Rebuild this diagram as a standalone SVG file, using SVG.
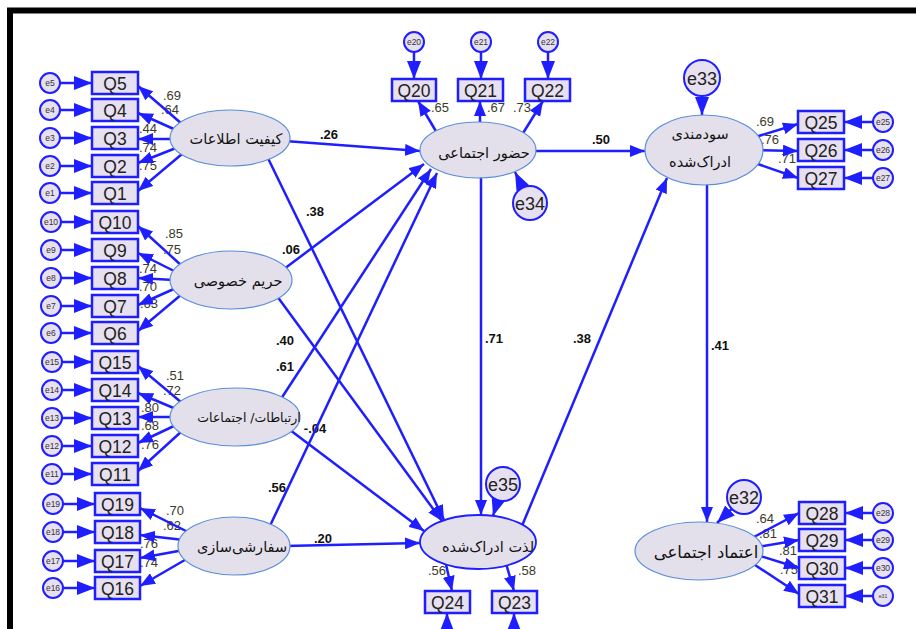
<svg xmlns="http://www.w3.org/2000/svg" width="916" height="629" viewBox="0 0 916 629">
<style>
.ln{stroke:#1e1eff;stroke-width:2.5;fill:none;marker-end:url(#ah)}
.le{stroke:#1e1eff;stroke-width:2.5;fill:none;marker-end:url(#ahb)}
.box{fill:#e7e0f0;stroke:#1e1eff;stroke-width:2.5}
.err{fill:#e7e0f0;stroke:#1e1eff;stroke-width:2}
.lat{fill:#e4e0eb;stroke:#5a8ed8;stroke-width:1.2}
.q{font-family:"Liberation Sans",Arial,sans-serif;font-size:17.5px;fill:#222;text-anchor:middle}
.e{font-family:"Liberation Sans",Arial,sans-serif;font-size:8.5px;fill:#333;text-anchor:middle}
.eb{font-family:"Liberation Sans",Arial,sans-serif;font-size:18px;fill:#222;text-anchor:middle}
.fa{font-family:"DejaVu Sans","Noto Sans",sans-serif;font-size:14.5px;fill:#111;text-anchor:middle}
.ld{font-family:"Liberation Sans",Arial,sans-serif;font-size:13px;fill:#3a3a2a;text-anchor:middle}
.pl{font-family:"Liberation Sans",Arial,sans-serif;font-size:13px;font-weight:bold;fill:#111;text-anchor:middle}
</style>
<defs>
<marker id="ah" markerUnits="userSpaceOnUse" markerWidth="16" markerHeight="12" refX="15" refY="6" orient="auto"><path d="M0,0 L15,6 L0,12 z" fill="#1e1eff"/></marker>
<marker id="ahb" markerUnits="userSpaceOnUse" markerWidth="19" markerHeight="14" refX="18" refY="7" orient="auto"><path d="M0,0 L18,7 L0,14 z" fill="#1e1eff"/></marker>
</defs>
<rect x="0" y="0" width="916" height="629" fill="#fff"/>
<rect x="10" y="10.5" width="1000" height="1000" fill="none" stroke="#000" stroke-width="6"/>

<g id="labels">
<text class="ld" x="172" y="99.5">.69</text><text class="ld" x="170" y="113.5">.64</text><text class="ld" x="148" y="132.5">.44</text><text class="ld" x="148" y="151.5">.74</text><text class="ld" x="148" y="169.5">.75</text>
<text class="ld" x="174" y="237.5">.85</text><text class="ld" x="172" y="253.5">.75</text><text class="ld" x="148" y="272.5">.74</text><text class="ld" x="148" y="290.5">.70</text><text class="ld" x="149" y="307.5">.63</text>
<text class="ld" x="175" y="379.5">.51</text><text class="ld" x="172" y="394.5">.72</text><text class="ld" x="150" y="411.5">.80</text><text class="ld" x="150" y="429.5">.68</text><text class="ld" x="150" y="448.5">.76</text>
<text class="ld" x="175" y="514.5">.70</text><text class="ld" x="172" y="529.5">.62</text><text class="ld" x="149" y="547.5">.76</text><text class="ld" x="149" y="566.5">.74</text>
<text class="ld" x="440" y="112">.65</text><text class="ld" x="496" y="112">.67</text><text class="ld" x="522" y="112">.73</text>
<text class="ld" x="765" y="125.5">.69</text><text class="ld" x="770" y="143.5">.76</text><text class="ld" x="787" y="162.5">.71</text>
<text class="ld" x="765" y="522.5">.64</text><text class="ld" x="768" y="537.5">.81</text><text class="ld" x="788" y="554.5">.81</text><text class="ld" x="789" y="573.5">.75</text>
<text class="ld" x="437" y="574.5">.56</text><text class="ld" x="527" y="574.5">.58</text>
<text class="pl" x="329" y="138.5">.26</text>
<text class="pl" x="315" y="215.5">.38</text>
<text class="pl" x="291" y="253.5">.06</text>
<text class="pl" x="285" y="344.5">.40</text>
<text class="pl" x="285" y="370.5">.61</text>
<text class="pl" x="315" y="432.5">-.04</text>
<text class="pl" x="277" y="491.5">.56</text>
<text class="pl" x="323" y="542.5">.20</text>
<text class="pl" x="601" y="143.5">.50</text>
<text class="pl" x="494" y="342.5">.71</text>
<text class="pl" x="582" y="342.5">.38</text>
<text class="pl" x="720" y="349.5">.41</text>
</g>

<g id="connectors">
<line class="le" x1="60" y1="83" x2="92" y2="83"/><line class="le" x1="60" y1="110" x2="92" y2="110"/><line class="le" x1="60" y1="138" x2="92" y2="138"/><line class="le" x1="60" y1="166" x2="92" y2="166"/><line class="le" x1="60" y1="193" x2="92" y2="193"/>
<line class="le" x1="61" y1="222" x2="92" y2="222"/><line class="le" x1="61" y1="250" x2="92" y2="250"/><line class="le" x1="61" y1="278" x2="92" y2="278"/><line class="le" x1="61" y1="306" x2="92" y2="306"/><line class="le" x1="61" y1="333" x2="92" y2="333"/>
<line class="le" x1="62" y1="362" x2="92" y2="362"/><line class="le" x1="62" y1="390" x2="92" y2="390"/><line class="le" x1="62" y1="418" x2="92" y2="418"/><line class="le" x1="62" y1="446" x2="92" y2="446"/><line class="le" x1="62" y1="474" x2="92" y2="474"/>
<line class="le" x1="63" y1="504" x2="95" y2="504"/><line class="le" x1="63" y1="532" x2="95" y2="532"/><line class="le" x1="63" y1="561" x2="95" y2="561"/><line class="le" x1="63" y1="588" x2="95" y2="588"/>
<line class="le" x1="414" y1="52" x2="414" y2="79"/><line class="le" x1="481" y1="52" x2="481" y2="79"/><line class="le" x1="548" y1="52" x2="548" y2="79"/>
<line class="le" x1="873" y1="122" x2="844" y2="122"/><line class="le" x1="873" y1="150" x2="844" y2="150"/><line class="le" x1="873" y1="178" x2="844" y2="178"/>
<line class="le" x1="873" y1="513" x2="845" y2="513"/><line class="le" x1="873" y1="540" x2="845" y2="540"/><line class="le" x1="873" y1="568" x2="845" y2="568"/><line class="le" x1="873" y1="596" x2="845" y2="596"/>
<line class="le" x1="447" y1="640" x2="447" y2="613"/><line class="le" x1="514" y1="640" x2="514" y2="613"/>
<line class="le" x1="702" y1="96" x2="702" y2="115"/>
<line class="le" x1="522.6" y1="187.7" x2="515" y2="172"/>
<line class="le" x1="497.9" y1="500.2" x2="493" y2="516"/>
<line class="le" x1="731.8" y1="508.8" x2="717" y2="523"/>
<line class="ln" x1="182" y1="124" x2="138" y2="86"/><line class="ln" x1="176" y1="130" x2="138" y2="113"/><line class="ln" x1="174" y1="139" x2="138" y2="139"/><line class="ln" x1="176" y1="148" x2="138" y2="163"/><line class="ln" x1="182" y1="154" x2="138" y2="191"/>
<line class="ln" x1="182" y1="266" x2="138" y2="226"/><line class="ln" x1="176" y1="272" x2="138" y2="253"/><line class="ln" x1="174" y1="280" x2="138" y2="278"/><line class="ln" x1="176" y1="288" x2="138" y2="305"/><line class="ln" x1="182" y1="294" x2="138" y2="331"/>
<line class="ln" x1="182" y1="403" x2="138" y2="366"/><line class="ln" x1="176" y1="409" x2="138" y2="393"/><line class="ln" x1="174" y1="417" x2="138" y2="417"/><line class="ln" x1="176" y1="425" x2="138" y2="443"/><line class="ln" x1="182" y1="431" x2="138" y2="471"/>
<line class="ln" x1="190" y1="533" x2="140" y2="508"/><line class="ln" x1="184" y1="540" x2="140" y2="535"/><line class="ln" x1="184" y1="550" x2="140" y2="558"/><line class="ln" x1="190" y1="557" x2="140" y2="586"/>
<line class="ln" x1="440" y1="138" x2="418" y2="101"/><line class="ln" x1="480" y1="130" x2="480" y2="101"/><line class="ln" x1="520" y1="138" x2="543" y2="101"/>
<line class="ln" x1="752" y1="138" x2="798" y2="124"/><line class="ln" x1="756" y1="150" x2="798" y2="151"/><line class="ln" x1="752" y1="162" x2="798" y2="178"/>
<line class="ln" x1="752" y1="538" x2="799" y2="513"/><line class="ln" x1="757" y1="547" x2="799" y2="540"/><line class="ln" x1="757" y1="555" x2="799" y2="568"/><line class="ln" x1="752" y1="563" x2="799" y2="594"/>
<line class="ln" x1="445" y1="560" x2="452" y2="591"/><line class="ln" x1="505" y1="560" x2="514" y2="591"/>
<line class="ln" x1="285" y1="141" x2="420" y2="151"/>
<line class="ln" x1="264" y1="150" x2="444" y2="520"/>
<line class="ln" x1="280" y1="272" x2="424" y2="164"/>
<line class="ln" x1="274" y1="292" x2="442" y2="521"/>
<line class="ln" x1="277" y1="405" x2="431" y2="169"/>
<line class="ln" x1="290" y1="430" x2="424" y2="531"/>
<line class="ln" x1="268" y1="530" x2="437" y2="173"/>
<line class="ln" x1="285" y1="546" x2="420" y2="543"/>
<line class="ln" x1="530" y1="151" x2="645" y2="151"/>
<line class="ln" x1="481" y1="175" x2="481" y2="515"/>
<line class="ln" x1="519" y1="533" x2="667" y2="178"/>
<line class="ln" x1="707" y1="182" x2="707" y2="522"/>
</g>

<g id="info_quality"><ellipse class="lat" cx="230" cy="138" rx="60" ry="28"/><text class="fa" x="236" y="144">کیفیت اطلاعات</text></g>
<g id="privacy"><ellipse class="lat" cx="231" cy="280" rx="61" ry="29"/><text class="fa" x="238" y="286">حریم خصوصی</text></g>
<g id="communication"><ellipse class="lat" cx="235" cy="417" rx="65" ry="29"/><text class="fa" x="249" y="422" style="font-size:12.5px">ارتباطات/ اجتماعات</text></g>
<g id="customization"><ellipse class="lat" cx="234" cy="546" rx="56" ry="29"/><text class="fa" x="242" y="552">سفارشی‌سازی</text></g>
<g id="social_presence"><ellipse class="lat" cx="478" cy="150" rx="58" ry="28"/><text class="fa" x="484" y="158">حضور اجتماعی</text></g>
<g id="usefulness"><ellipse class="lat" cx="704" cy="150" rx="59" ry="35"/><text class="fa" x="700" y="139">سودمندی</text><text class="fa" x="700" y="167">ادراک‌شده</text></g>
<g id="enjoyment"><ellipse class="lat" cx="478" cy="542" rx="58" ry="27" style="stroke:#1e1eff;stroke-width:1.8"/><text class="fa" x="488" y="552">لذت ادراک‌شده</text></g>
<g id="trust"><ellipse class="lat" cx="699" cy="551" rx="64" ry="29"/><text class="fa" x="706" y="558" style="font-size:16.5px">اعتماد اجتماعی</text></g>

<g id="Q5"><rect class="box" x="92" y="72" width="46" height="22"/><text class="q" x="115" y="89.5">Q5</text></g>
<g id="Q4"><rect class="box" x="92" y="99" width="46" height="22"/><text class="q" x="115" y="116.5">Q4</text></g>
<g id="Q3"><rect class="box" x="92" y="127" width="46" height="22"/><text class="q" x="115" y="144.5">Q3</text></g>
<g id="Q2"><rect class="box" x="92" y="155" width="46" height="22"/><text class="q" x="115" y="172.5">Q2</text></g>
<g id="Q1"><rect class="box" x="92" y="182" width="46" height="22"/><text class="q" x="115" y="199.5">Q1</text></g>
<g id="Q10"><rect class="box" x="92" y="211" width="46" height="22"/><text class="q" x="115" y="228.5">Q10</text></g>
<g id="Q9"><rect class="box" x="92" y="239" width="46" height="22"/><text class="q" x="115" y="256.5">Q9</text></g>
<g id="Q8"><rect class="box" x="92" y="267" width="46" height="22"/><text class="q" x="115" y="284.5">Q8</text></g>
<g id="Q7"><rect class="box" x="92" y="295" width="46" height="22"/><text class="q" x="115" y="312.5">Q7</text></g>
<g id="Q6"><rect class="box" x="92" y="322" width="46" height="22"/><text class="q" x="115" y="339.5">Q6</text></g>
<g id="Q15"><rect class="box" x="92" y="351" width="46" height="22"/><text class="q" x="115" y="368.5">Q15</text></g>
<g id="Q14"><rect class="box" x="92" y="379" width="46" height="22"/><text class="q" x="115" y="396.5">Q14</text></g>
<g id="Q13"><rect class="box" x="92" y="407" width="46" height="22"/><text class="q" x="115" y="424.5">Q13</text></g>
<g id="Q12"><rect class="box" x="92" y="435" width="46" height="22"/><text class="q" x="115" y="452.5">Q12</text></g>
<g id="Q11"><rect class="box" x="92" y="463" width="46" height="22"/><text class="q" x="115" y="480.5">Q11</text></g>
<g id="Q19"><rect class="box" x="95" y="493" width="45" height="22"/><text class="q" x="117.5" y="510.5">Q19</text></g>
<g id="Q18"><rect class="box" x="95" y="521" width="45" height="22"/><text class="q" x="117.5" y="538.5">Q18</text></g>
<g id="Q17"><rect class="box" x="95" y="550" width="45" height="22"/><text class="q" x="117.5" y="567.5">Q17</text></g>
<g id="Q16"><rect class="box" x="95" y="577" width="45" height="22"/><text class="q" x="117.5" y="594.5">Q16</text></g>
<g id="Q20"><rect class="box" x="392" y="79" width="44" height="22"/><text class="q" x="414" y="96.5">Q20</text></g>
<g id="Q21"><rect class="box" x="458" y="79" width="45" height="22"/><text class="q" x="480.5" y="96.5">Q21</text></g>
<g id="Q22"><rect class="box" x="525" y="79" width="45" height="22"/><text class="q" x="547.5" y="96.5">Q22</text></g>
<g id="Q25"><rect class="box" x="798" y="111" width="46" height="22"/><text class="q" x="821" y="128.5">Q25</text></g>
<g id="Q26"><rect class="box" x="798" y="139" width="46" height="22"/><text class="q" x="821" y="156.5">Q26</text></g>
<g id="Q27"><rect class="box" x="798" y="167" width="46" height="22"/><text class="q" x="821" y="184.5">Q27</text></g>
<g id="Q28"><rect class="box" x="799" y="502" width="46" height="22"/><text class="q" x="822" y="519.5">Q28</text></g>
<g id="Q29"><rect class="box" x="799" y="529" width="46" height="22"/><text class="q" x="822" y="546.5">Q29</text></g>
<g id="Q30"><rect class="box" x="799" y="557" width="46" height="22"/><text class="q" x="822" y="574.5">Q30</text></g>
<g id="Q31"><rect class="box" x="799" y="585" width="46" height="22"/><text class="q" x="822" y="602.5">Q31</text></g>
<g id="Q24"><rect class="box" x="425" y="591" width="45" height="22"/><text class="q" x="447.5" y="608.5">Q24</text></g>
<g id="Q23"><rect class="box" x="492" y="591" width="45" height="22"/><text class="q" x="514.5" y="608.5">Q23</text></g>

<g id="e5"><circle class="err" cx="50" cy="83" r="10"/><text class="e" x="50" y="86">e5</text></g>
<g id="e4"><circle class="err" cx="50" cy="110" r="10"/><text class="e" x="50" y="113">e4</text></g>
<g id="e3"><circle class="err" cx="50" cy="138" r="10"/><text class="e" x="50" y="141">e3</text></g>
<g id="e2"><circle class="err" cx="50" cy="166" r="10"/><text class="e" x="50" y="169">e2</text></g>
<g id="e1"><circle class="err" cx="50" cy="193" r="10"/><text class="e" x="50" y="196">e1</text></g>
<g id="e10"><circle class="err" cx="51" cy="222" r="10"/><text class="e" x="51" y="225">e10</text></g>
<g id="e9"><circle class="err" cx="51" cy="250" r="10"/><text class="e" x="51" y="253">e9</text></g>
<g id="e8"><circle class="err" cx="51" cy="278" r="10"/><text class="e" x="51" y="281">e8</text></g>
<g id="e7"><circle class="err" cx="51" cy="306" r="10"/><text class="e" x="51" y="309">e7</text></g>
<g id="e6"><circle class="err" cx="51" cy="333" r="10"/><text class="e" x="51" y="336">e6</text></g>
<g id="e15"><circle class="err" cx="52" cy="362" r="10"/><text class="e" x="52" y="365">e15</text></g>
<g id="e14"><circle class="err" cx="52" cy="390" r="10"/><text class="e" x="52" y="393">e14</text></g>
<g id="e13"><circle class="err" cx="52" cy="418" r="10"/><text class="e" x="52" y="421">e13</text></g>
<g id="e12"><circle class="err" cx="52" cy="446" r="10"/><text class="e" x="52" y="449">e12</text></g>
<g id="e11"><circle class="err" cx="52" cy="474" r="10"/><text class="e" x="52" y="477">e11</text></g>
<g id="e19"><circle class="err" cx="53" cy="504" r="10"/><text class="e" x="53" y="507">e19</text></g>
<g id="e18"><circle class="err" cx="53" cy="532" r="10"/><text class="e" x="53" y="535">e18</text></g>
<g id="e17"><circle class="err" cx="53" cy="561" r="10"/><text class="e" x="53" y="564">e17</text></g>
<g id="e16"><circle class="err" cx="53" cy="588" r="10"/><text class="e" x="53" y="591">e16</text></g>
<g id="e20"><circle class="err" cx="414" cy="42" r="10"/><text class="e" x="414" y="45">e20</text></g>
<g id="e21"><circle class="err" cx="481" cy="42" r="10"/><text class="e" x="481" y="45">e21</text></g>
<g id="e22"><circle class="err" cx="548" cy="42" r="10"/><text class="e" x="548" y="45">e22</text></g>
<g id="e25"><circle class="err" cx="883" cy="122" r="10"/><text class="e" x="883" y="125">e25</text></g>
<g id="e26"><circle class="err" cx="883" cy="150" r="10"/><text class="e" x="883" y="153">e26</text></g>
<g id="e27"><circle class="err" cx="883" cy="178" r="10"/><text class="e" x="883" y="181">e27</text></g>
<g id="e28"><circle class="err" cx="883" cy="513" r="10"/><text class="e" x="883" y="516">e28</text></g>
<g id="e29"><circle class="err" cx="883" cy="540" r="10"/><text class="e" x="883" y="543">e29</text></g>
<g id="e30"><circle class="err" cx="883" cy="568" r="10"/><text class="e" x="883" y="571">e30</text></g>
<g id="e31"><circle class="err" cx="883" cy="596" r="10"/><text class="e" x="883" y="598" style="font-size:5px">e31</text></g>
<g id="e33"><circle class="err" cx="702" cy="78" r="18"/><text class="eb" x="702" y="84.5">e33</text></g>
<g id="e34"><circle class="err" cx="530" cy="203" r="17"/><text class="eb" x="530" y="209.5">e34</text></g>
<g id="e35"><circle class="err" cx="503" cy="484" r="17"/><text class="eb" x="503" y="490.5">e35</text></g>
<g id="e32"><circle class="err" cx="744" cy="497" r="17"/><text class="eb" x="744" y="503.5">e32</text></g>
</svg>
